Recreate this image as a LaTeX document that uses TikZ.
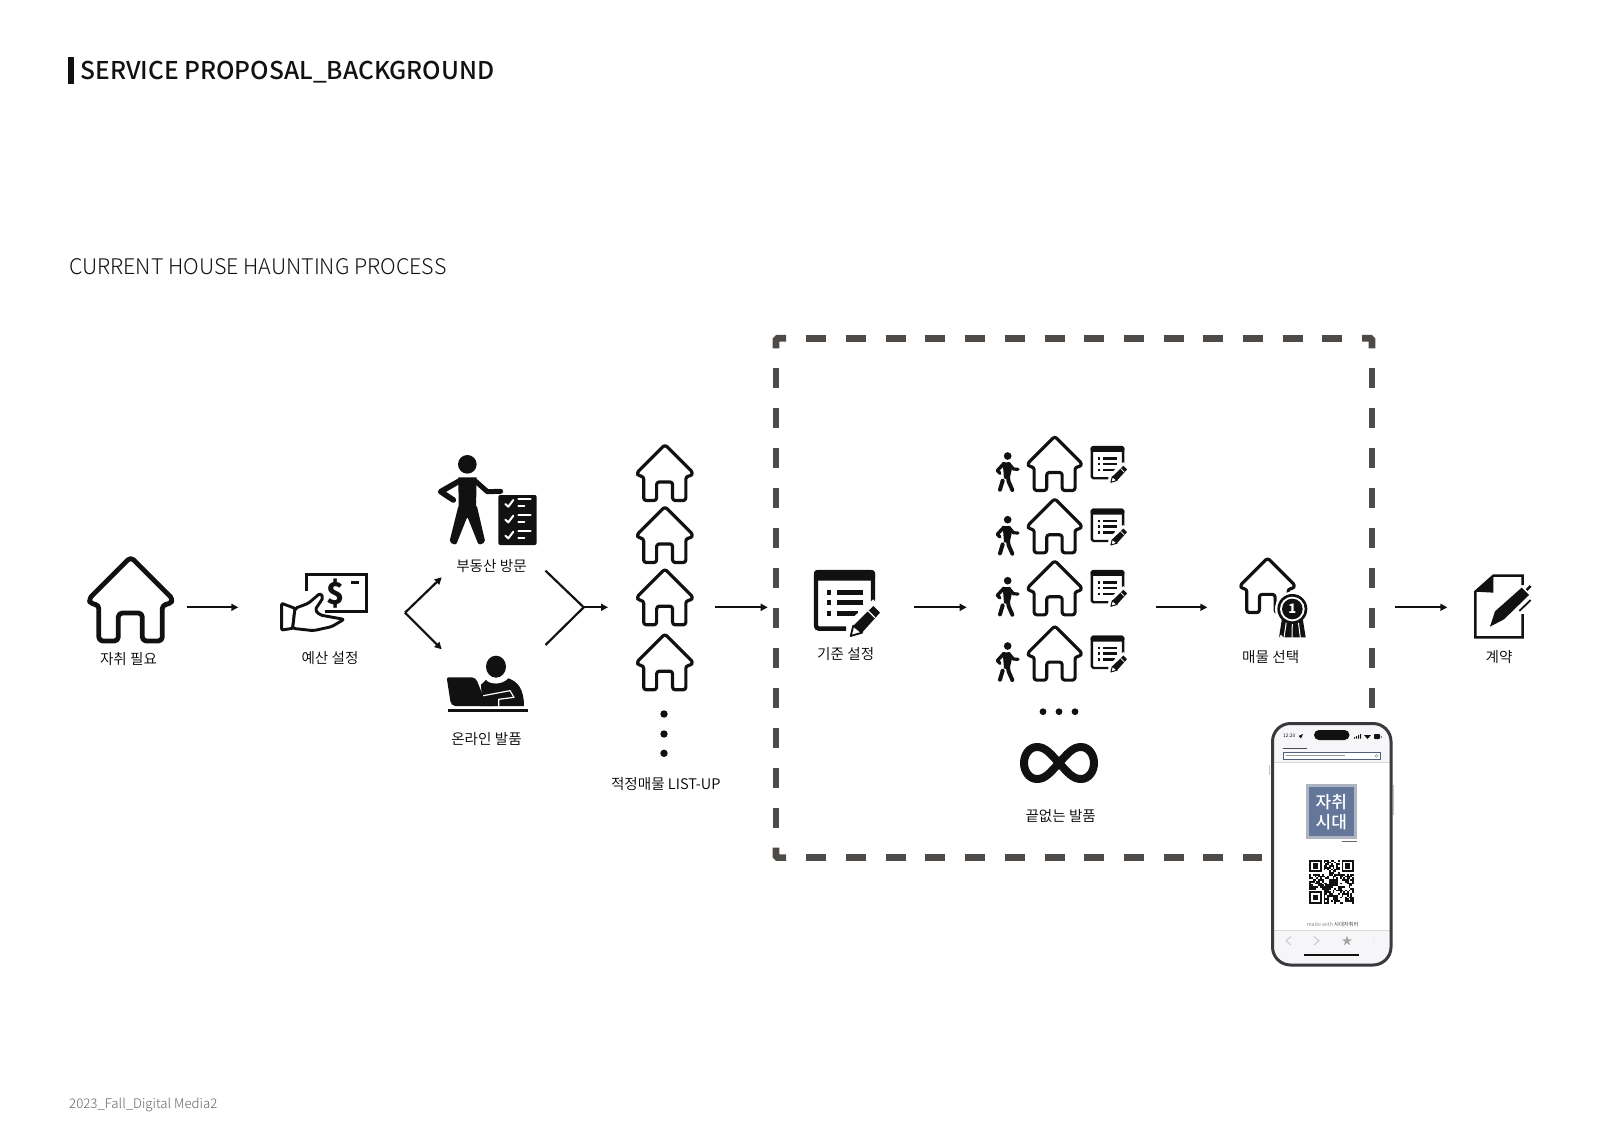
\documentclass[tikz,border=0pt]{standalone}
\usepackage{fontspec}
\setmainfont{Noto Sans CJK KR}
\newfontfamily\medf{Noto Sans CJK KR Medium}
\newfontfamily\lightf{Noto Sans CJK KR Light}
\newfontfamily\demif{Noto Sans CJK KR DemiLight}
\usetikzlibrary{arrows.meta}
\definecolor{ink}{HTML}{111111}
\definecolor{dashc}{HTML}{4D4A47}
\definecolor{bezel}{HTML}{3A3A3E}
\definecolor{barc}{HTML}{F6F6F8}
\definecolor{logoin}{HTML}{64779B}
\definecolor{logoout}{HTML}{AEB4BF}
\tikzset{
  hit/.style={inner sep=0pt,outer sep=0pt,minimum height=1pt},
  arr/.style={line width=2.2pt,ink,-{Triangle[length=7pt,width=7pt]}},
  plainline/.style={line width=2.2pt,ink},
  lab/.style={font=\demif\fontsize{14.6}{17}\selectfont,text=black,inner sep=0pt},
  dashl/.style={line width=6.6pt,dashc,dash pattern=on 20pt off 20pt},
  dashh/.style={line width=6.6pt,dashc,dash pattern=on 20pt off 19.7pt},
  cornerl/.style={line width=6.6pt,dashc,rounded corners=1.5pt},
}
% house: left, top, scale
\newcommand\housepic[3]{%
  \begin{scope}[shift={(#1,#2)},scale=#3]
  \draw[line width=#3*4.8pt,ink,rounded corners=#3*4pt,line join=round]
    (43.5,1) -- (1,43.5) -- (4.5,48.5) -- (11.5,48.5) -- (11.5,85) -- (31,85)
    -- (31,57) -- (55,57) -- (55,85) -- (75,85) -- (75,48.5) -- (82,48.5) -- (86,43.5) -- cycle;
  \end{scope}}
% document with list and pencil: left, top, scale
\newcommand\docicon[3]{%
  \begin{scope}[shift={(#1,#2)},scale=#3/3]
  \draw[line width=#3*4.4pt,ink,rounded corners=#3*3pt] (96,176) -- (6,176) -- (6,6) -- (177,6) -- (177,95);
  \fill[ink,rounded corners=#3*3pt] (0,32) -- (0,0) -- (183,0) -- (183,32) -- cycle;
  \foreach \yy in {60,91,123} \fill[ink] (38,\yy) rectangle (52,\yy+14);
  \fill[ink] (68,60) rectangle (146,74);
  \fill[ink] (68,91) rectangle (146,105);
  \fill[ink] (68,123) rectangle (133,137);
  \fill[white] (90,205) -- (108,150) -- (178,88) -- (210,128) -- (150,205) -- cycle;
  \fill[ink] (118,167) -- (178,108) -- (198,128) -- (144,188) -- cycle;
  \draw[white,line width=#3*1.2pt] (163,123) -- (183,143);
  \draw[ink,line width=#3*1.8pt,fill=white,line join=round] (118,167) -- (144,188) -- (110,198) -- cycle;
  \end{scope}}
% walker: vertical shift from the first row
\newcommand\walkerpic[1]{%
  \begin{scope}[shift={(980,430+#1)},scale=1/3,line cap=round,line join=round]
  \fill[ink] (83,78) circle[radius=11.5];
  \fill[ink] (68,97) -- (90,97) -- (95,120) -- (88,150) -- (72,145) -- cycle;
  \draw[ink,line width=3.4pt] (72,100) -- (52,122) -- (60,130);
  \draw[ink,line width=3.2pt] (86,100) -- (100,117) -- (114,118);
  \draw[ink,line width=4pt] (84,142) -- (86,155) -- (97,180);
  \draw[ink,line width=4pt] (68,152) -- (60,179);
  \end{scope}}
\begin{document}
\begin{tikzpicture}[x=1pt,y=-1pt]
\useasboundingbox (0,0) rectangle (1600,1131);
\fill[white] (0,0) rectangle (1600,1131);

% headings
\fill[ink] (68.3,57.3) rectangle (74.3,83.7);
\node[anchor=base west,inner sep=0pt,font=\medf\fontsize{24.5}{28}\selectfont,text=ink] (title) at (80.5,79.5) {SERVICE PROPOSAL\_BACKGROUND};
\node[anchor=base west,inner sep=0pt,font=\lightf\fontsize{21.5}{26}\selectfont,text=ink] (sub) at (68.8,274.5) {CURRENT HOUSE HAUNTING PROCESS};
\node[anchor=base west,inner sep=0pt,font=\lightf\fontsize{13.25}{16}\selectfont,text=black!60] (foot) at (69,1108) {2023\_Fall\_Digital Media2};

% connector anchors
\node[hit,minimum width=99.7pt] (need) at (136.85,607.3) {};
\node[hit,minimum width=128pt] (budget) at (302.3,607.3) {};
\node[hit,minimum width=107.3pt] (list) at (661.65,607.3) {};
\node[hit,minimum width=146.6pt] (crit) at (841,607.3) {};
\node[hit,minimum width=189.3pt] (rows) at (1061.35,607.3) {};
\node[hit,minimum width=187.7pt] (select) at (1301.15,607.3) {};
\node[hit,minimum width=82.7pt] (contract) at (1488.65,607.3) {};
\coordinate (forkL) at (405,612.7);
\coordinate (visitIn) at (441.7,577.3);
\coordinate (onlineIn) at (441.7,649.3);
\coordinate (visitOut) at (545.5,570.7);
\coordinate (onlineOut) at (545.5,645);
\coordinate (forkR) at (583.7,607.3);

\draw[arr] (need.east) -- (budget.west);
\draw[arr] (forkL) -- (visitIn);
\draw[arr] (forkL) -- (onlineIn);
\draw[plainline,line join=miter] (visitOut) -- (forkR) -- (onlineOut);
\draw[arr] (forkR) -- (list.west);
\draw[arr] (list.east) -- (crit.west);
\draw[arr] (crit.east) -- (rows.west);
\draw[arr] (rows.east) -- (select.west);
\draw[arr] (select.east) -- (contract.west);

% dashed frame
\draw[cornerl] (786,338.3) -- (776,338.3) -- (776,348.3);
\draw[cornerl] (1362,338.3) -- (1372,338.3) -- (1372,348.3);
\draw[cornerl] (776,847.7) -- (776,857.6) -- (786,857.6);
\draw[dashh] (806.3,338.3) -- (1342.5,338.3);
\draw[dashl] (776,368.3) -- (776,827.7);
\draw[dashl] (1372,368.3) -- (1372,708);
\draw[dashh] (806.3,857.6) -- (1262,857.6);

% first house
\housepic{87.3}{556}{1}
\node[lab] (l1) at (128.5,659) {자취 필요};

% budget icon
\begin{scope}[shift={(270,560)},scale=1/3]
  \draw[ink,line width=2.6pt,line join=miter] (110,92) -- (110,43) -- (290,43) -- (290,155) -- (165,155);
  \draw[ink,line width=2.6pt] (243,67) -- (268,67);
  \draw[ink,line width=2.9pt,fill=white,line join=round,rounded corners=1pt]
    (35,130) -- (75,145) -- (68,205) -- (35,210) -- cycle;
  \draw[ink,line width=2.9pt,fill=white,line join=round,rounded corners=2pt]
    (75,145) -- (115,130) -- (150,100) -- (160,112) -- (135,150) -- (150,165) -- (222,178) -- (185,200) -- (130,212) -- (68,205) -- cycle;
\end{scope}
\node[inner sep=0pt,font=\fontsize{30}{32}\selectfont\bfseries,text=ink] (dollar) at (335.5,594) {\$};
\node[lab] (l2) at (330,658) {예산 설정};

% person with checklist
\begin{scope}[shift={(430,445)},scale=1/3,line cap=round,line join=round]
  \fill[ink] (112,58) circle[radius=28];
  \fill[ink] (85,97) -- (140,97) -- (138,190) -- (86,190) -- cycle;
  \fill[ink,rounded corners=2pt] (86,180) -- (58,292) -- (78,300) -- (112,215) -- (146,300) -- (166,292) -- (140,180) -- cycle;
  \draw[ink,line width=5.6pt] (90,107) -- (32,140) -- (70,165);
  \draw[ink,line width=5pt] (135,107) -- (172,140) -- (212,139);
  \fill[ink,rounded corners=2pt] (205,150) rectangle (320,300);
  \foreach \yy in {175,222,270} {
    \draw[white,line width=2pt] (226,\yy+2) -- (235,\yy+10) -- (250,\yy-10);
    \draw[white,line width=2pt] (265,\yy-12) -- (302,\yy-12);
    \draw[white,line width=2pt] (265,\yy+8) -- (283,\yy+8);
  }
\end{scope}
\node[lab] (l3) at (491.5,566) {부동산 방문};

% person with laptop
\begin{scope}[shift={(60,420)},scale=1/3,line join=round]
  \fill[ink] (1308,740) ellipse[x radius=30,y radius=33];
  \fill[ink] (1262,795) -- (1278,780) .. controls (1290,795) and (1328,795) .. (1345,775)
     .. controls (1375,785) and (1392,810) .. (1392,858) -- (1262,858) -- cycle;
  \draw[white,line width=1.2pt] (1265,828) -- (1350,812) -- (1362,832) -- (1316,838) -- (1316,860);
  \fill[white] (1240,765) -- (1262,795) -- (1268,845) -- (1240,845) -- cycle;
  \fill[ink,rounded corners=2pt] (1160,772) -- (1242,772) -- (1250,780) -- (1275,842) -- (1310,842) -- (1310,858) -- (1180,858) -- (1172,850) -- cycle;
  \draw[ink,line width=3.5pt] (1163,872) -- (1405,872);
\end{scope}
\node[lab] (l4) at (486.5,739) {온라인 발품};

% stacked houses
\housepic{636}{444}{.665}
\housepic{636}{506}{.665}
\housepic{636}{568.3}{.665}
\housepic{636}{633.3}{.665}
\fill[ink] (664,714) circle[radius=3.7];
\fill[ink] (664,734) circle[radius=3.7];
\fill[ink] (664,753.3) circle[radius=3.7];
\node[lab] (l5) at (665.7,784) {적정매물 LIST-UP};

% criteria
\docicon{814}{570}{1}
\node[lab] (l6) at (845.7,654) {기준 설정};

% rows
\walkerpic{0}\walkerpic{63.7}\walkerpic{124.7}\walkerpic{190}
\housepic{1026.7}{435.7}{.645}
\housepic{1026.7}{498}{.645}
\housepic{1026.7}{560}{.645}
\housepic{1026.7}{625.3}{.645}
\docicon{1090.7}{446}{.55}
\docicon{1090.7}{508.7}{.55}
\docicon{1090.7}{570}{.55}
\docicon{1090.7}{635.7}{.55}
\fill[ink] (1043,711.7) circle[radius=3.4];
\fill[ink] (1059,711.7) circle[radius=3.4];
\fill[ink] (1075,711.7) circle[radius=3.4];
\begin{scope}[shift={(1059,763)}]
  \draw[ink,line width=8pt]
   (0,0) .. controls (9,-10) and (14,-16) .. (22,-16) .. controls (30,-16) and (35,-8) .. (35,0)
   .. controls (35,8) and (30,16) .. (22,16) .. controls (14,16) and (9,10) .. (0,0)
   .. controls (-9,-10) and (-14,-16) .. (-22,-16) .. controls (-30,-16) and (-35,-8) .. (-35,0)
   .. controls (-35,8) and (-30,16) .. (-22,16) .. controls (-14,16) and (-9,10) .. (0,0) -- cycle;
\end{scope}
\node[lab] (l7) at (1060.7,816) {끝없는 발품};

% selected house with badge
\housepic{1239.3}{557.3}{.65}
\begin{scope}[shift={(1200,540)},scale=1/3]
  \fill[white] (277,207) circle[radius=52];
  \fill[ink] (246,235) -- (237,292) -- (317,292) -- (308,235) -- cycle;
  \draw[white,line width=1pt] (252,293) -- (259,245);
  \draw[white,line width=1pt] (276,296) -- (277,245);
  \draw[white,line width=1pt] (301,293) -- (295,245);
  \fill[white] (237,292) -- (243,284) -- (251,294) -- cycle;
  \fill[ink] (277,207) circle[radius=45];
  \fill[white] (277,207) circle[radius=37];
  \fill[ink] (277,207) circle[radius=31];
\end{scope}
\node[inner sep=0pt,font=\fontsize{13}{14}\selectfont\bfseries,text=white] (one) at (1292.3,609) {1};
\node[lab] (l8) at (1270.7,657.5) {매물 선택};

% contract document
\begin{scope}[shift={(1200,540)},scale=1/3,line join=miter]
  \draw[ink,line width=2.4pt] (968,135) -- (968,107) -- (880,107) -- (826,155) -- (826,292) -- (968,292) -- (968,222);
  \fill[ink] (826,155) -- (880,107) -- (880,158) -- cycle;
  \fill[ink] (870,260) -- (885,214) -- (965,143) -- (987,165) -- (912,238) -- cycle;
  \draw[ink,line width=2.4pt] (980,150) -- (992,138);
  \draw[white,line width=5pt] (950,222) -- (1000,172);
  \draw[ink,line width=1.8pt] (958,213) -- (992,180);
\end{scope}
\node[lab] (l9) at (1499,657.5) {계약};

% phone
\draw[black!25,line width=1pt] (1269.8,765) -- (1269.8,775);
\draw[black!25,line width=.8pt] (1393,785) -- (1393,815);
\begin{scope}
  \clip[rounded corners=18pt] (1272,723) rectangle (1391.5,965);
  \fill[white] (1272,723) rectangle (1391.5,965);
  \fill[barc] (1272,723) rectangle (1391.5,762.5);
  \fill[barc] (1272,930) rectangle (1391.5,965);
  \draw[black!15,line width=.5pt] (1272,762.5) -- (1391.5,762.5);
  \draw[black!15,line width=.5pt] (1272,930) -- (1391.5,930);
\end{scope}
\draw[bezel,line width=3pt,rounded corners=18pt] (1272.5,723.5) rectangle (1391,965);
\fill[ink,rounded corners=5pt] (1314,730) rectangle (1349.5,740);
\node[anchor=west,inner sep=0pt,font=\fontsize{4.8}{6}\selectfont,text=ink] (clock) at (1283,736) {12:20};
\fill[ink] (1298.5,736) -- (1303,734) -- (1301,738.5) -- cycle;
\fill[ink] (1354,737) rectangle (1355,738.5) (1356,736) rectangle (1357,738.5) (1358,735) rectangle (1359,738.5) (1360,734) rectangle (1361,738.5);
\fill[ink] (1364,735) -- (1371,735) -- (1367.5,739) -- cycle;
\fill[ink,rounded corners=.8pt] (1374,734) rectangle (1380,739);
\fill[black!50] (1381,735.5) rectangle (1382,737.5);
\draw[black!70,line width=1.1pt] (1283.3,748.7) -- (1306.7,748.7);
\draw[logoin!80!black,line width=.5pt,fill=white] (1283,752.7) rectangle (1380.5,758.9);
\draw[black!40,line width=1.2pt] (1285.5,755.8) -- (1345,755.8);
\draw[black!50,line width=.4pt] (1376.5,755.8) circle[radius=1.5];
\fill[logoout] (1306,784) rectangle (1356.7,839.3);
\fill[logoin] (1309,787) rectangle (1353.7,836.3);
\node[inner sep=0pt,font=\medf\fontsize{17}{19}\selectfont,text=white] (logoA) at (1331.3,802.5) {자취};
\node[inner sep=0pt,font=\medf\fontsize{17}{19}\selectfont,text=white] (logoB) at (1331.3,822.5) {시대};
\draw[black!60,line width=1pt] (1342,841.5) -- (1356.5,841.5);
% QR code
\begin{scope}[shift={(1309.3,860)},x=1.79pt,y=-1.74pt]
  \foreach \i in {0,...,24} \foreach \j in {0,...,24} {
    \edef\aa{\the\numexpr (\i*37+\j*101+\i*\j*13+\i*\i*\j*7+\j*\j*\i*11+\i*\i*\i*3+\j*\j*\j*5)\relax}
    \edef\rr{\the\numexpr \aa-(\aa/97)*97\relax}
    \pgfmathtruncatemacro\skipit{(\i<8 && \j<8) || (\i>16 && \j<8) || (\i<8 && \j>16) ? 1 : 0}
    \ifnum\skipit=0 \ifnum\rr<4 \fill[ink] (\i,\j) rectangle (\i+1,\j+1); \fi\fi
  }
  \foreach \ox/\oy in {0/0,18/0,0/18} {
    \fill[ink] (\ox,\oy) rectangle (\ox+7,\oy+7);
    \fill[white] (\ox+1,\oy+1) rectangle (\ox+6,\oy+6);
    \fill[ink] (\ox+2,\oy+2) rectangle (\ox+5,\oy+5);
  }
\end{scope}
\node[inner sep=0pt,font=\fontsize{5.3}{6}\selectfont,text=black!45] (made) at (1332.7,925) {made with \textcolor{black!75}{시대자취러}};
\draw[black!22,line width=.9pt] (1291,936.5) -- (1286,940.7) -- (1291,945);
\draw[black!22,line width=.9pt] (1314,936.5) -- (1319,940.7) -- (1314,945);
\fill[black!35] (1347,935.7) -- (1348.3,939.3) -- (1352,939.3) -- (1349,941.6) -- (1350.1,945.2) -- (1347,943) -- (1343.9,945.2) -- (1345,941.6) -- (1342,939.3) -- (1345.7,939.3) -- cycle;
\fill[black!12] (1373.5,937) circle[radius=.5] (1373.5,940.5) circle[radius=.5] (1373.5,944) circle[radius=.5];
\draw[ink,line width=1.3pt] (1304.3,955) -- (1359,955);
\end{tikzpicture}
\end{document}
